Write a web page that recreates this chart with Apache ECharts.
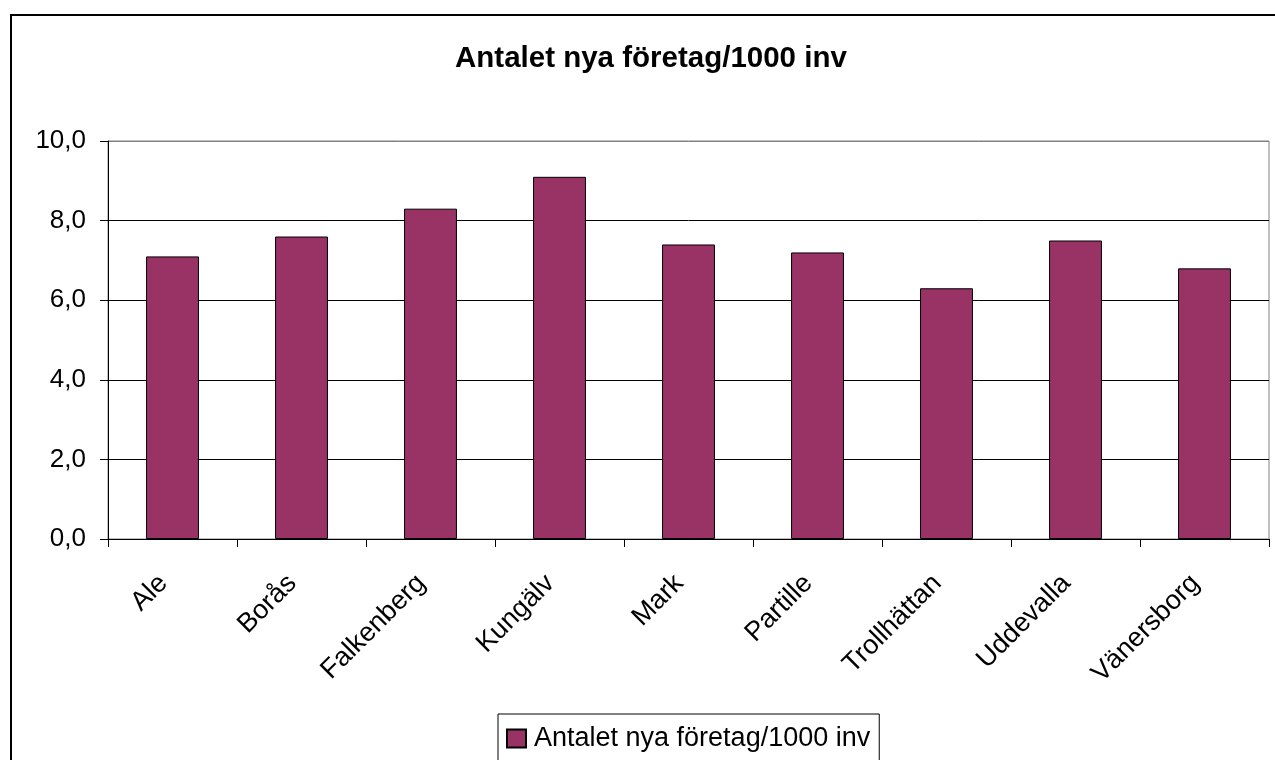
<!DOCTYPE html>
<html>
<head>
<meta charset="utf-8">
<script src="https://cdn.jsdelivr.net/npm/echarts@6/dist/echarts.min.js"></script>
<style>
html, body { margin: 0; padding: 0; background: #fff; }
#main { width: 1275px; height: 760px; }
</style>
</head>
<body>
<div id="main"></div>
<script>
const seriesName = 'Antalet nya företag/1000 inv';
const kommuner = ['Ale', 'Borås', 'Falkenberg', 'Kungälv', 'Mark', 'Partille', 'Trollhättan', 'Uddevalla', 'Vänersborg'];
const nyaForetag = [7.1, 7.6, 8.3, 9.1, 7.4, 7.2, 6.3, 7.5, 6.8];

const chart = echarts.init(document.getElementById('main'));
const font = 'Liberation Sans, Arial, sans-serif';

const option = {
  animation: false,
  backgroundColor: '#fff',
  textStyle: { fontFamily: font },
  graphic: [{
    type: 'rect',
    shape: { x: 11, y: 15, width: 1300, height: 800 },
    style: { fill: 'none', stroke: '#000', lineWidth: 2 },
    z: 100,
  }],
  title: {
    text: seriesName,
    left: 455,
    top: 44,
    padding: 0,
    textStyle: {
      fontFamily: font,
      fontSize: 29.5,
      fontWeight: 'bold',
      color: '#000',
    },
  },
  legend: {
    data: [seriesName],
    left: 498,
    top: 714,
    padding: [11, 9, 12, 8],
    borderColor: '#000',
    borderWidth: 1,
    itemWidth: 19,
    itemHeight: 18,
    icon: 'rect',
    itemGap: 6,
    textStyle: {
      fontFamily: font,
      fontSize: 27,
      color: '#000',
      padding: [0, 0, 0, 3],
    },
  },
  grid: {
    left: 108,
    right: 6,
    top: 141,
    bottom: 221,
    show: true,
    borderColor: '#808080',
    borderWidth: 1,
  },
  xAxis: {
    type: 'category',
    data: kommuner,
    axisLine: { lineStyle: { color: '#000', width: 1 } },
    axisTick: { show: true, length: 8, lineStyle: { color: '#000' } },
    axisLabel: {
      rotate: 45,
      margin: 31,
      padding: [0, 13, 0, 0],
      fontSize: 27,
      color: '#000',
      fontFamily: font,
    },
  },
  yAxis: {
    type: 'value',
    min: 0,
    max: 10,
    interval: 2,
    axisLine: { show: true, lineStyle: { color: '#000', width: 1 } },
    axisTick: { show: true, length: 8, lineStyle: { color: '#000' } },
    splitLine: {
      lineStyle: { color: ['#000', '#000', '#000', '#000', '#000', '#808080'], width: 1 },
    },
    axisLabel: {
      margin: 22,
      fontSize: 26,
      color: '#000',
      fontFamily: font,
      formatter: function (v) {
        return v.toFixed(1).replace('.', ',');
      },
    },
  },
  series: [{
    name: seriesName,
    type: 'bar',
    data: nyaForetag,
    barCategoryGap: '59%',
    itemStyle: {
      color: '#993366',
      borderColor: '#000',
      borderWidth: 1,
    },
  }],
};

chart.setOption(option);
</script>
</body>
</html>
